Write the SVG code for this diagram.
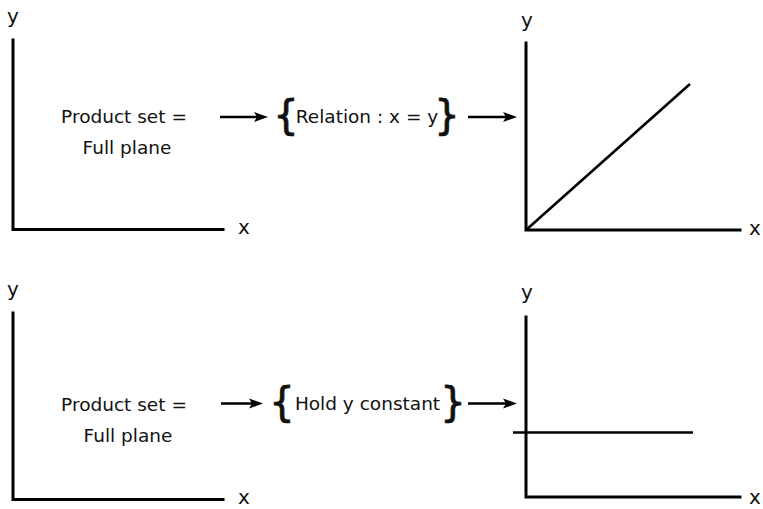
<svg xmlns="http://www.w3.org/2000/svg" width="763" height="509" viewBox="0 0 763 509">
<style>
.ax{stroke:#000;stroke-width:3;fill:none;stroke-linecap:square}
.ln{stroke:#000;stroke-width:2.6;fill:none}
.lbl{font-family:"DejaVu Sans","Liberation Sans",sans-serif;font-size:20px;fill:#111;text-anchor:middle}
.t{font-family:"DejaVu Sans","Liberation Sans",sans-serif;font-size:18.5px;fill:#111;text-anchor:middle}
.br{font-family:"DejaVu Sans","Liberation Sans",sans-serif;font-size:40px;fill:#111;text-anchor:middle;stroke:#111;stroke-width:0.8}
.ar{stroke:#000;stroke-width:2.6;fill:none}
</style>
<defs>
<marker id="ah" markerUnits="userSpaceOnUse" markerWidth="15" markerHeight="11" viewBox="0 0 15 11" refX="6" refY="5.5" orient="auto">
<path d="M0,0.5 L14,5.5 L0,10.5 L3,5.5 Z" fill="#000"/>
</marker>
</defs>
<rect width="763" height="509" fill="#fff"/>

<g id="plot-top-left">
<path class="ax" d="M13,40 V229.5 H223"/>
<text class="lbl" x="13" y="23">y</text>
<text class="lbl" x="244" y="234">x</text>
<text class="t" x="124" y="123">Product set =</text>
<text class="t" x="127" y="154">Full plane</text>
</g>

<g id="relation-top">
<text class="br" x="286" y="129">{</text>
<text class="t" x="367" y="123">Relation : x = y</text>
<text class="br" x="447" y="129">}</text>
</g>

<g id="plot-top-right">
<path class="ax" d="M526,43 V230 H740"/>
<path class="ln" d="M526,230 L690,84"/>
<text class="lbl" x="527" y="27">y</text>
<text class="lbl" x="755" y="235">x</text>
</g>

<g id="plot-bottom-left">
<path class="ax" d="M13,313 V499.5 H223"/>
<text class="lbl" x="13" y="296">y</text>
<text class="lbl" x="244" y="504">x</text>
<text class="t" x="124" y="411">Product set =</text>
<text class="t" x="128" y="442">Full plane</text>
</g>

<g id="relation-bottom">
<text class="br" x="282" y="416">{</text>
<text class="t" x="367.5" y="410">Hold y constant</text>
<text class="br" x="453" y="416">}</text>
</g>

<g id="plot-bottom-right">
<path class="ax" d="M526,317 V497 H740"/>
<path class="ln" d="M513,432.5 H693"/>
<text class="lbl" x="527" y="299">y</text>
<text class="lbl" x="755" y="504">x</text>
</g>

<g id="connectors">
<line class="ar" x1="220" y1="117" x2="260" y2="117" marker-end="url(#ah)"/>
<line class="ar" x1="468" y1="117" x2="509" y2="117" marker-end="url(#ah)"/>
<line class="ar" x1="221" y1="403.5" x2="255" y2="403.5" marker-end="url(#ah)"/>
<line class="ar" x1="468" y1="403.5" x2="509" y2="403.5" marker-end="url(#ah)"/>
</g>
</svg>
